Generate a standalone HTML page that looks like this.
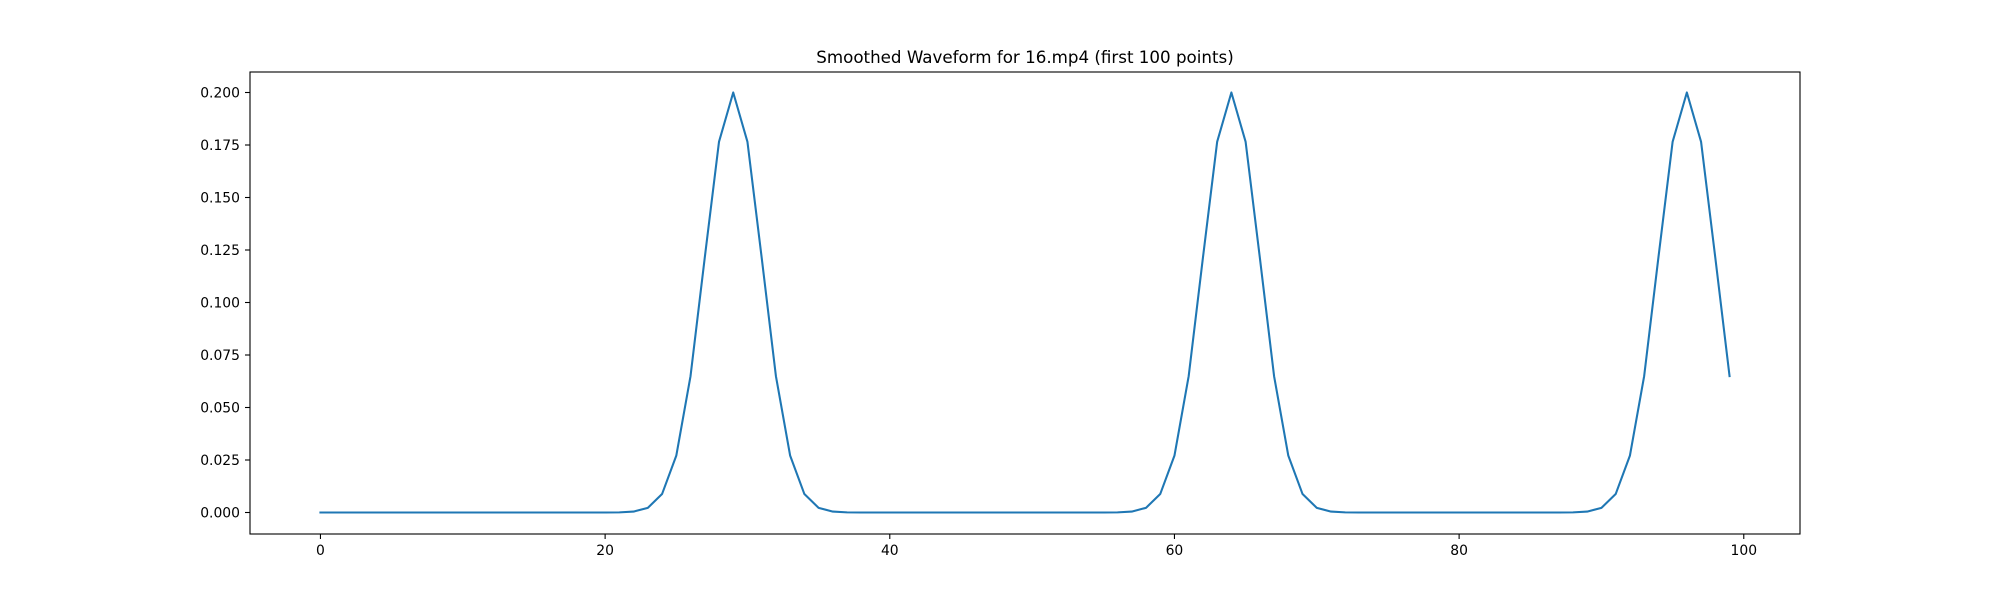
<!DOCTYPE html>
<html><head><meta charset="utf-8"><style>
body{margin:0;background:#fff;}
svg text{font-family:"DejaVu Sans","Liberation Sans",sans-serif;fill:#000;}
</style></head><body>
<svg id="s" width="2000" height="600" xmlns="http://www.w3.org/2000/svg">
<rect width="2000" height="600" fill="#fff"/>
<text x="1025" y="63" font-size="16.7" text-anchor="middle">Smoothed Waveform for 16.mp4 (first 100 points)</text>
<g id="ticks"></g>
<path id="line" fill="none" stroke="#1f77b4" stroke-width="2.08" stroke-linejoin="round" stroke-linecap="square"/>
<rect x="250" y="72" width="1550" height="462" fill="none" stroke="#000" stroke-width="1.1"/>
</svg>
<script>
var X=function(v){return 250+(v+4.95)*1550/108.9;};
var Y=function(v){return 512.5-v*2100;};
var d="";
for(var i=0;i<100;i++){var v=0;[29,64,96].forEach(function(p){v+=0.2*Math.exp(-(i-p)*(i-p)/8);});
d+=(i?"L":"M")+X(i).toFixed(2)+","+Y(v).toFixed(2);}
document.getElementById("line").setAttribute("d",d);
var g="";
for(var t=0;t<=100;t+=20){var x=X(t);g+='<line x1="'+x+'" y1="534" x2="'+x+'" y2="539" stroke="#000" stroke-width="1.1"/><text x="'+x+'" y="555" font-size="13.9" text-anchor="middle">'+t+'</text>';}
for(var k=0;k<=8;k++){var v=k*0.025,y=Y(v);g+='<line x1="245" y1="'+y+'" x2="250" y2="'+y+'" stroke="#000" stroke-width="1.1"/><text x="240" y="'+(y+5)+'" font-size="13.9" text-anchor="end">'+v.toFixed(3)+'</text>';}
document.getElementById("ticks").innerHTML=g;
</script>
</body></html>
